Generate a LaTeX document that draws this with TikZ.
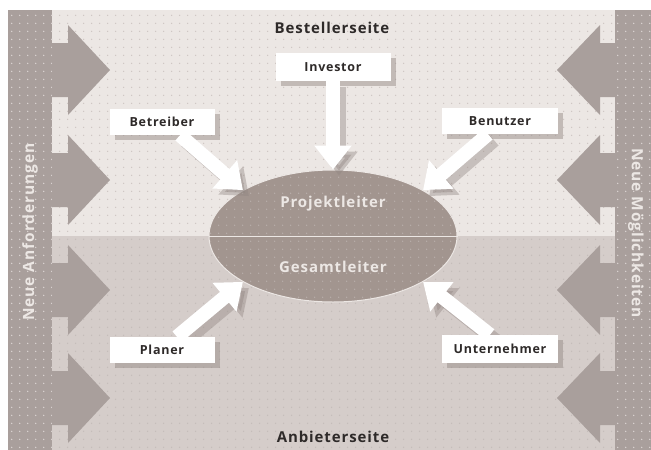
\documentclass[tikz,border=0pt]{standalone}
\usepackage{fontspec}
\setmainfont{Open Sans}
\newfontfamily\spaced[LetterSpace=6]{Open Sans}
\usetikzlibrary{arrows.meta,shapes.geometric,shadows,patterns.meta}
\definecolor{upbg}{HTML}{ECE7E4}
\definecolor{lowbg}{HTML}{D5CDCA}
\definecolor{stripc}{HTML}{A99F9C}
\definecolor{ellc}{HTML}{A2958F}
\definecolor{shadc}{HTML}{8F8480}
\definecolor{txtc}{HTML}{2E2A29}
\definecolor{dotc}{HTML}{B7ADA9}
\tikzdeclarepattern{name=mydots, type=uncolored,
  bounding box={(0pt,0pt) and (8.3pt,8.3pt)}, tile size={(8.3pt,8.3pt)},
  code={\fill (4pt,4pt) circle (0.8pt);}}
\tikzset{
  boxfont/.style={font=\spaced\fontsize{12.5}{14}\selectfont\bfseries, text=txtc},
  actor/.style={draw=none, fill=white, minimum width=105pt, minimum height=26pt,
    inner sep=0pt, boxfont,
    drop shadow={shadow xshift=5pt, shadow yshift=-5pt, fill=shadc, opacity=0.45}},
  actortop/.style={fill=white, inner sep=0pt, boxfont},
  flow/.style={draw=white, line width=14pt,
    -{Triangle[width=36pt,length=24pt]}},
  flowshadow/.style={draw=shadc, opacity=0.4, line width=14pt,
    -{Triangle[width=36pt,length=24pt]},
    transform canvas={xshift=6pt,yshift=-6pt}},
  sidetext/.style={font=\spaced\fontsize{15.5}{17}\selectfont\bfseries, text=upbg},
  title/.style={font=\spaced\fontsize{15}{17}\selectfont\bfseries, text=txtc},
  inner/.style={font=\spaced\fontsize{15}{17}\selectfont\bfseries, text=upbg},
  bigarrow/.style={fill=stripc}
}
\begin{document}
\begin{tikzpicture}[x=1pt,y=-1pt]
\useasboundingbox (0,0) rectangle (651,450);
\fill[white] (0,0) rectangle (651,450);
% backgrounds
\fill[upbg] (8,10) rectangle (651,236);
\fill[pattern=mydots, pattern color=dotc!60!upbg] (8,10) rectangle (651,236);
\fill[lowbg] (8,236) rectangle (651,450);
\fill[pattern=mydots, pattern color=dotc!70!black!20!lowbg] (8,236) rectangle (651,450);
% side strips
\fill[stripc] (8,10) rectangle (52,450);
\fill[stripc] (615,10) rectangle (651,450);
% side block arrows
\foreach \yc in {70,180,290,398}{
  \fill[bigarrow] (51,\yc-27) -- (68,\yc-27) -- (68,\yc-45) -- (110,\yc)
     -- (68,\yc+45) -- (68,\yc+27) -- (51,\yc+27) -- cycle;
  \fill[bigarrow] (616,\yc-27) -- (600,\yc-27) -- (600,\yc-45) -- (557,\yc)
     -- (600,\yc+45) -- (600,\yc+27) -- (616,\yc+27) -- cycle;
}
\fill[pattern=mydots, pattern color=lowbg!80!white] (8,10) rectangle (52,450);
\fill[pattern=mydots, pattern color=lowbg!80!white] (615,10) rectangle (651,450);
% side texts
\node[sidetext, rotate=90] (neuea) at (30,232) {Neue Anforderungen};
\node[sidetext, rotate=-90] (neuem) at (636,233) {Neue Möglichkeiten};
% titles
\node[title] (best) at (332,28) {Bestellerseite};
\node[title] (anb) at (333,437) {Anbieterseite};
% central ellipse
\node[ellipse, fill=ellc, draw=upbg, line width=1pt, minimum width=248pt,
  minimum height=132pt, inner sep=0pt] (ell) at (333,236) {};
\fill[pattern=mydots, pattern color=ellc!75!white] (ell.center) ellipse [x radius=123pt, y radius=65pt];
\draw[upbg, line width=1pt] (ell.west) -- (ell.east);
\node[inner] (pl) at (333,204) {Projektleiter};
\node[inner] (gl) at (333,267) {Gesamtleiter};
% actor boxes (with shadows)
\node[actor, minimum width=115pt, minimum height=28pt] (inv) at (333,67) {Investor};
\node[actor] (bet) at (162,122) {Betreiber};
\node[actor, minimum width=116pt] (ben) at (500,121) {Benutzer};
\node[actor] (pla) at (162,350) {Planer};
\node[actor, minimum width=116pt, minimum height=28pt] (unt) at (500,349) {Unternehmer};
% arrow shadows
\draw[flowshadow] (inv.south) -- (ell.north);
\draw[flowshadow] ([xshift=18pt]bet.south) -- (ell.153);
\draw[flowshadow] ([xshift=-12pt]ben.south) -- (ell.27);
\draw[flowshadow] ([xshift=15pt]pla.north) -- (ell.207);
\draw[flowshadow] ([xshift=-10pt]unt.north) -- (ell.-27);
% arrows
\draw[flow] (inv.south) -- (ell.north);
\draw[flow] ([xshift=18pt]bet.south) -- (ell.153);
\draw[flow] ([xshift=-12pt]ben.south) -- (ell.27);
\draw[flow] ([xshift=15pt]pla.north) -- (ell.207);
\draw[flow] ([xshift=-10pt]unt.north) -- (ell.-27);
% boxes redrawn on top of the arrow shadows
\node[actortop, minimum width=115pt, minimum height=28pt] (inv2) at (inv) {Investor};
\node[actortop, minimum width=105pt, minimum height=26pt] (bet2) at (bet) {Betreiber};
\node[actortop, minimum width=116pt, minimum height=26pt] (ben2) at (ben) {Benutzer};
\node[actortop, minimum width=105pt, minimum height=26pt] (pla2) at (pla) {Planer};
\node[actortop, minimum width=116pt, minimum height=28pt] (unt2) at (unt) {Unternehmer};
\end{tikzpicture}
\end{document}
